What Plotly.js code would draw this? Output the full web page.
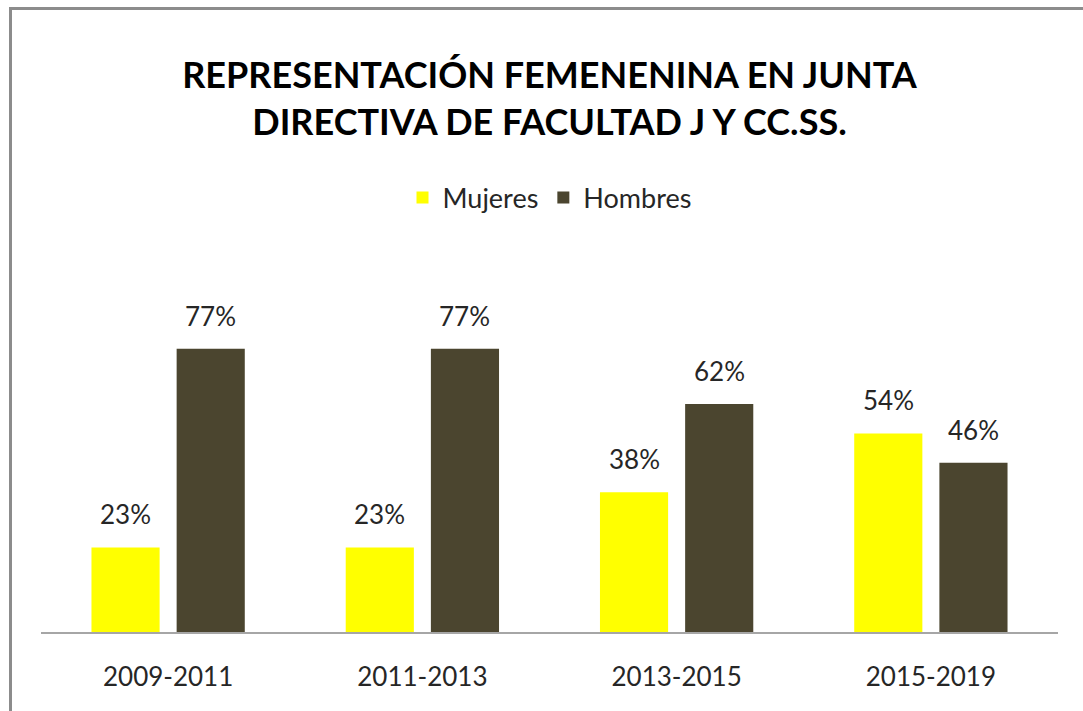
<!DOCTYPE html>
<html>
<head>
<meta charset="utf-8">
<script src="https://cdn.plot.ly/plotly-3.0.1.min.js"></script>
<style>
  html, body { margin: 0; padding: 0; background: #ffffff; }
  #wrap { position: relative; width: 1083px; height: 711px; overflow: hidden; }
  #chart { width: 1083px; height: 711px; }
  #frame { position: absolute; left: 9px; top: 7px; width: 1200px; height: 800px;
           border-left: 3px solid #8c8c8c; border-top: 3px solid #8c8c8c; pointer-events: none; }
</style>
</head>
<body>
<div id="wrap">
  <div id="chart"></div>
  <div id="frame"></div>
</div>
<script>
const categories = ["2009-2011", "2011-2013", "2013-2015", "2015-2019"];
const mujeres = [23, 23, 38, 54];
const hombres = [77, 77, 62, 46];
const seriesNames = ["Mujeres", "Hombres"];
const colors = ["#FFFF00", "#4B452F"];
const chartTitle = "REPRESENTACIÓN FEMENENINA EN JUNTA<br>DIRECTIVA DE FACULTAD J Y CC.SS.";

const font = "Lato, 'Open Sans', sans-serif";
const txtColor = "#262626";

const traces = [mujeres, hombres].map((vals, i) => ({
  type: "bar",
  name: seriesNames[i],
  x: categories,
  y: vals,
  marker: { color: colors[i] },
  hoverinfo: "skip"
}));

const annotations = [];
[mujeres, hombres].forEach((vals, i) => {
  vals.forEach((v, j) => {
    annotations.push({
      x: categories[j], y: v, xref: "x", yref: "y",
      text: v + "%", showarrow: false,
      xshift: i === 0 ? -42.5 : 42.5,
      yanchor: "bottom", yshift: 15,
      font: { family: font, size: 26, color: txtColor }
    });
  });
});

const layout = {
  width: 1083, height: 711,
  paper_bgcolor: "#ffffff", plot_bgcolor: "#ffffff",
  margin: { l: 41, r: 25, t: 301, b: 79 },
  barmode: "group", bargap: 0.33, bargroupgap: 0.2,
  title: {
    text: chartTitle,
    font: { family: font, size: 36, color: "#000000", weight: "bold" },
    x: 0.5, xanchor: "center", xref: "paper",
    y: 1 - 88 / 711, yanchor: "middle", yref: "container"
  },
  showlegend: true,
  legend: {
    orientation: "h", x: 0.5, xanchor: "center", y: (632 - 198) / 331, yanchor: "middle",
    font: { family: font, size: 27, color: txtColor },
    traceorder: "normal", itemwidth: 30
  },
  xaxis: {
    type: "category",
    showline: true, linecolor: "#a6a6a6", linewidth: 2,
    ticks: "", showgrid: false, zeroline: false,
    tickfont: { family: font, size: 26, color: txtColor },
    ticklabelstandoff: 21, fixedrange: true
  },
  yaxis: {
    range: [0, 90], visible: false, showgrid: false, zeroline: false, fixedrange: true
  },
  annotations: annotations
};

Plotly.newPlot("chart", traces, layout, { displayModeBar: false, staticPlot: true });
</script>
</body>
</html>
